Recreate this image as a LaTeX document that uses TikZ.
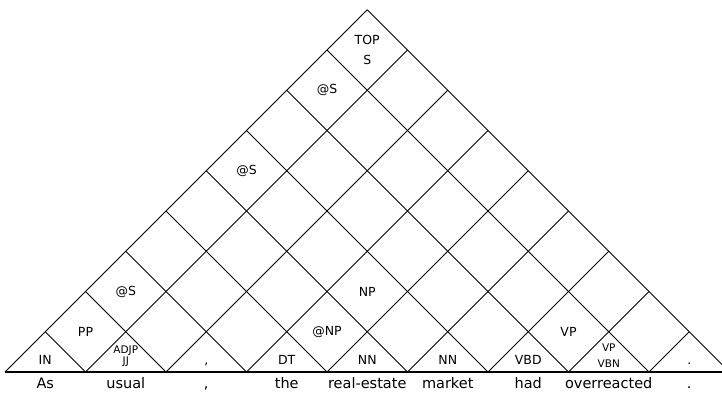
\documentclass[tikz,border=0pt]{standalone}
\usepackage{fontspec}
\setmainfont{DejaVu Sans}
\usepackage{tikz}
\usetikzlibrary{positioning,calc}
\tikzset{
    chartline/.style={
        line width=1pt
    },
    groundline/.style={
        line width=1.8pt
    },
    catlabel/.style={
        font=\fontsize{12.5}{14}\selectfont,
        inner sep=0pt
    },
    smalllabel/.style={
        font=\fontsize{10.5}{12}\selectfont,
        inner sep=0pt
    },
    wordlabel/.style={
        font=\fontsize{14.5}{16}\selectfont,
        inner sep=0pt
    }
}

\begin{document}
\begin{tikzpicture}[x=1pt, y=1pt]
        \def\u{40.25}
        \useasboundingbox (-5,-25) rectangle (717,372);
        \clip (-5,-25) rectangle (717,372);

        % split points between the words
        \foreach \k in {0,...,9}
            \coordinate (p\k) at ({2*\k*\u},0);

        % chart lines
        \foreach \k in {0,...,8}
            \draw[chartline] (p\k) -- ++({(9-\k)*\u},{(9-\k)*\u});
        \foreach \k in {1,...,9}
            \draw[chartline] (p\k) -- ++({-\k*\u},{\k*\u});
        \draw[groundline] (p0) -- (p9);

        % sentence
        \node[wordlabel, anchor=base] (w0) at ({1*\u},-16) {As};
        \node[wordlabel, anchor=base] (w1) at ({3*\u},-16) {usual};
        \node[wordlabel, anchor=base] (w2) at ({5*\u},-16) {,};
        \node[wordlabel, anchor=base] (w3) at ({7*\u},-16) {the};
        \node[wordlabel, anchor=base] (w4) at ({9*\u},-16) {real-estate};
        \node[wordlabel, anchor=base] (w5) at ({11*\u},-16) {market};
        \node[wordlabel, anchor=base] (w6) at ({13*\u},-16) {had};
        \node[wordlabel, anchor=base] (w7) at ({15*\u},-16) {overreacted};
        \node[wordlabel, anchor=base] (w8) at ({17*\u},-16) {.};

        % preterminal cells
        \node[catlabel, anchor=base] (in) at ({1*\u},8) {IN};
        \node[smalllabel, anchor=base] (adjp) at ({3*\u},19) {ADJP};
        \node[smalllabel, anchor=base] (jj) at ({3*\u},8) {JJ};
        \node[catlabel, anchor=base] (comma) at ({5*\u},8) {,};
        \node[catlabel, anchor=base] (dt) at ({7*\u},8) {DT};
        \node[catlabel, anchor=base] (nn1) at ({9*\u},8) {NN};
        \node[catlabel, anchor=base] (nn2) at ({11*\u},8) {NN};
        \node[catlabel, anchor=base] (vbd) at ({13*\u},8) {VBD};
        \node[smalllabel, anchor=base] (vp1) at ({15*\u},21) {VP};
        \node[smalllabel, anchor=base] (vbn) at ({15*\u},5) {VBN};
        \node[catlabel, anchor=base] (dot) at ({17*\u},8) {.};

        % longer spans
        \node[catlabel] (pp) at ({2*\u},{1*\u}) {PP};
        \node[catlabel] (s3) at ({3*\u},{2*\u}) {@S};
        \node[catlabel] (np1) at ({8*\u},{1*\u}) {@NP};
        \node[catlabel] (np2) at ({9*\u},{2*\u}) {NP};
        \node[catlabel] (vp2) at ({14*\u},{1*\u}) {VP};
        \node[catlabel] (s6) at ({6*\u},{5*\u}) {@S};
        \node[catlabel] (s8) at ({8*\u},{7*\u}) {@S};
        \node[catlabel] (top) at ({9*\u},{8*\u+10}) {TOP};
        \node[catlabel] (s9) at ({9*\u},{8*\u-10}) {S};
    \end{tikzpicture}
\end{document}
